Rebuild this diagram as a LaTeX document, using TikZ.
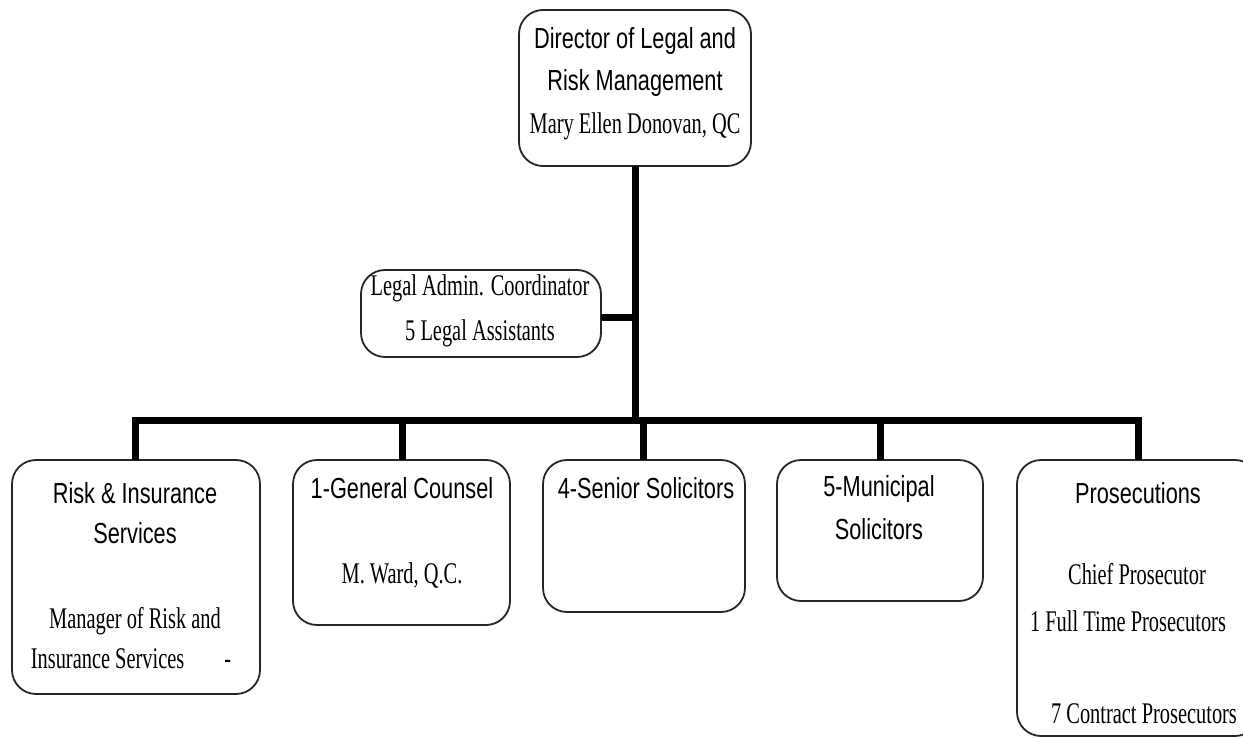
\documentclass[tikz,border=0pt]{standalone}
\usepackage{fontspec}
\newfontfamily\hdfont[FakeStretch=0.75]{Liberation Sans}
\newfontfamily\nmfont[FakeStretch=0.68]{Liberation Serif}
\begin{document}
\begin{tikzpicture}[x=1pt,y=-1pt,
  box/.style={draw=black!85,line width=1.8pt,rounded corners=24pt},
  conn/.style={line width=7pt,black},
  hd/.style={anchor=base,inner sep=0pt,font=\hdfont\fontsize{29}{32}\selectfont},
  nm/.style={anchor=base,inner sep=0pt,font=\nmfont\fontsize{30}{32}\selectfont}]
\useasboundingbox (0,0) rectangle (1243,738);
\fill[white] (0,0) rectangle (1243,738);
% boxes
\draw[box] (519,10) rectangle (751,166);
\coordinate (dirS) at (635,166);
\draw[box] (361,270) rectangle (601,357);
\coordinate (admE) at (601,317);
\draw[box] (12,460) rectangle (260,694);
\draw[box] (293,460) rectangle (510,625);
\draw[box] (543,460) rectangle (745,612);
\draw[box] (777,460) rectangle (983,601);
\draw[box] (1017,460) rectangle (1259,736);
% connectors
\coordinate (junc) at (635,317);
\coordinate (bar) at (635,420);
\coordinate (bL) at (135,420);
\coordinate (bR) at (1138,420);
\draw[conn] (dirS) -- (bar);
\draw[conn] (admE) -- (junc);
\draw[conn] ([xshift=-3.5pt]bL) -- ([xshift=3.5pt]bR);
\coordinate (r1) at (135,460); \coordinate (r1u) at (135,420);
\coordinate (r2) at (402,460); \coordinate (r2u) at (402,420);
\coordinate (r3) at (643,460); \coordinate (r3u) at (643,420);
\coordinate (r4) at (880,460); \coordinate (r4u) at (880,420);
\coordinate (r5) at (1138,460); \coordinate (r5u) at (1138,420);
\foreach \a in {r1,r2,r3,r4,r5} \draw[conn] (\a u) -- (\a);
% texts
\node[hd] (d1) at (635,49) {Director of Legal and};
\node[hd] (d2) at (635,91) {Risk Management};
\node[nm] (d3) at (635,134) {Mary Ellen Donovan, QC};
\node[nm] (a1) at (480,296) {Legal Admin. Coordinator};
\node[nm] (a2) at (480,341) {5 Legal Assistants};
\node[hd] (k1) at (135,503) {Risk \& Insurance};
\node[hd] (k2) at (135,543) {Services};
\node[nm] (k3) at (135,628) {Manager of Risk and};
\node[nm] (k4) at (131,668) {Insurance Services\hspace{40pt}-};
\node[hd] (g1) at (402,498) {1-General Counsel};
\node[nm] (g2) at (402,583) {M. Ward, Q.C.};
\node[hd] (s1) at (646,498) {4-Senior Solicitors};
\node[hd] (m1) at (879,496) {5-Municipal};
\node[hd] (m2) at (879,539) {Solicitors};
\node[hd] (p1) at (1138,503) {Prosecutions};
\node[nm] (p2) at (1137,584) {Chief Prosecutor};
\node[nm] (p3) at (1128,631) {1 Full Time Prosecutors};
\node[nm] (p4) at (1144,723) {7 Contract Prosecutors};
\end{tikzpicture}
\end{document}
